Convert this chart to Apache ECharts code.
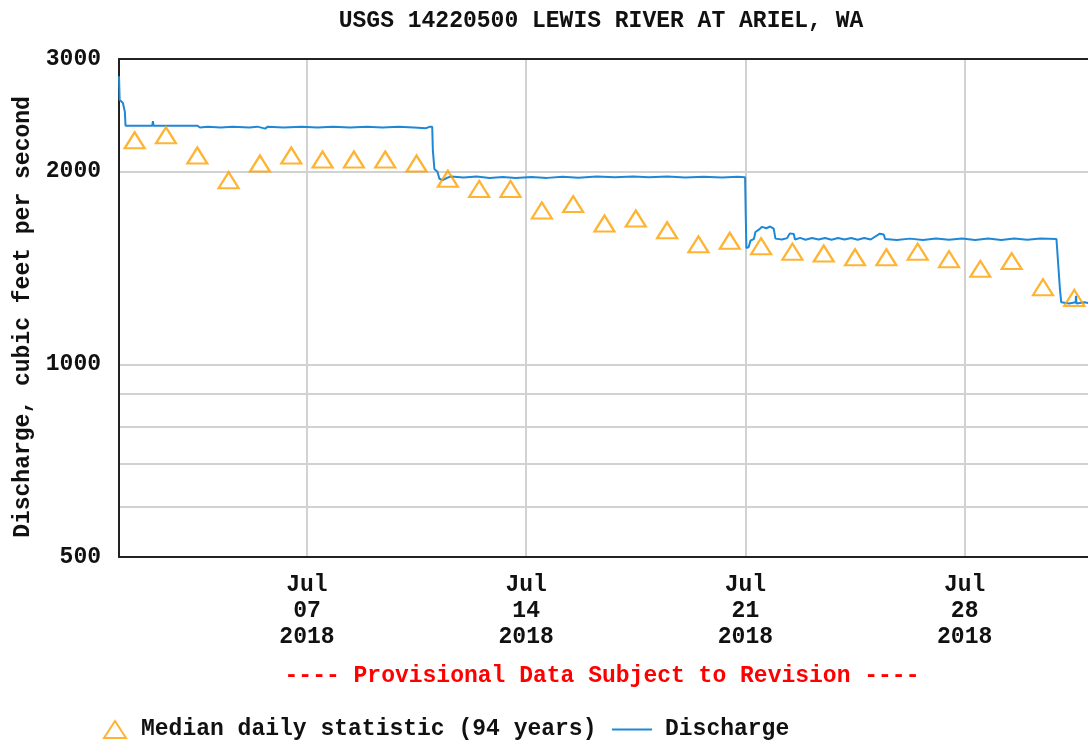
<!DOCTYPE html>
<html>
<head>
<meta charset="utf-8">
<script src="https://cdn.jsdelivr.net/npm/echarts@6/dist/echarts.min.js"></script>
<style>
  html, body { margin: 0; padding: 0; background: #fff; }
  #main { width: 1088px; height: 743px; }
</style>
</head>
<body>
<div id="main"></div>
<script>
// USGS 14220500 Lewis River at Ariel, WA -- July 2018
var FONT = 'Liberation Mono';
var monthNames = ['Jan','Feb','Mar','Apr','May','Jun','Jul','Aug','Sep','Oct','Nov','Dec'];

// y axis labels / inner grid lines (cfs)
var yLabelValues = [500, 1000, 2000, 3000];
var yGridValues = [600, 700, 800, 900, 1000, 2000];

// x axis label days (July 2018)
var xLabelDays = ['07-07', '07-14', '07-21', '07-28'];

// median daily statistic, one per day of July (plotted at noon)
var medianDays = [1,2,3,4,5,6,7,8,9,10,11,12,13,14,15,16,17,18,19,20,21,22,23,24,25,26,27,28,29,30,31];
var medianValues = [2240,2280,2120,1940,2060,2120,2090,2090,2090,2060,
                    1950,1880,1880,1740,1780,1660,1690,1620,1540,1560,
                    1530,1500,1490,1470,1470,1500,1460,1410,1450,1320,1270];

// instantaneous discharge (UTC, 2018)
var dischargeTimes = [
  '07-01 00:00','07-01 00:30','07-01 03:00','07-01 04:30','07-01 05:00',
  '07-02 01:30','07-02 02:00','07-02 02:30','07-03 12:00','07-03 14:00',
  '07-03 20:00','07-04 06:00','07-04 15:00','07-05 04:00','07-05 10:00',
  '07-05 16:00','07-05 18:00','07-06 06:00','07-06 20:00','07-07 08:00',
  '07-07 20:00','07-08 09:00','07-08 22:00','07-09 10:00','07-09 22:00',
  '07-10 10:00','07-10 19:00','07-10 22:00','07-10 23:30','07-11 00:00',
  '07-11 00:30','07-11 01:40','07-11 04:00','07-11 05:30','07-11 08:00',
  '07-11 11:00','07-11 14:00','07-12 00:00','07-12 10:00','07-12 20:00',
  '07-13 06:00','07-13 16:00','07-14 04:00','07-14 16:00','07-15 04:00',
  '07-15 16:00','07-16 06:00','07-16 20:00','07-17 10:00','07-17 22:00',
  '07-18 12:00','07-19 02:00','07-19 16:00','07-20 06:00','07-20 18:00',
  '07-20 23:45','07-21 00:15','07-21 00:45','07-21 02:30','07-21 03:50',
  '07-21 06:30','07-21 07:40','07-21 10:00','07-21 12:45','07-21 16:00',
  '07-21 19:00','07-21 21:40','07-21 23:00','07-22 04:00','07-22 08:00',
  '07-22 10:00','07-22 13:00','07-22 14:00','07-22 18:00','07-22 22:00',
  '07-23 03:00','07-23 08:00','07-23 13:00','07-23 18:00','07-23 23:00',
  '07-24 04:00','07-24 09:00','07-24 14:00','07-24 19:00','07-25 00:00',
  '07-25 07:00','07-25 10:00','07-25 11:00','07-25 20:00','07-26 06:00',
  '07-26 16:00','07-27 02:00','07-27 12:00','07-27 22:00','07-28 08:00',
  '07-28 18:00','07-29 04:00','07-29 14:00','07-30 00:00','07-30 10:00',
  '07-30 22:20','07-30 23:30','07-31 01:00','07-31 02:00','07-31 08:00',
  '07-31 13:00','07-31 13:20','07-31 13:40','07-31 20:00','08-01 00:00'
];
var dischargeValues = [
  2820,2590,2560,2480,2360,
  2360,2400,2360,2360,2345,
  2352,2345,2352,2345,2352,
  2335,2352,2345,2352,2345,
  2352,2345,2352,2345,2352,
  2345,2338,2350,2360,2350,
  2160,2020,2000,1950,1940,
  1955,1965,1958,1965,1955,
  1963,1955,1962,1956,1964,
  1957,1966,1960,1966,1960,
  1966,1958,1964,1958,1964,
  1960,1710,1520,1525,1560,
  1570,1610,1622,1640,1632,
  1642,1630,1572,1567,1575,
  1602,1598,1567,1576,1566,
  1576,1567,1576,1566,1576,
  1567,1576,1566,1576,1567,
  1600,1596,1570,1564,1572,
  1564,1573,1565,1573,1564,
  1573,1564,1573,1565,1573,
  1570,1560,1310,1250,1245,
  1250,1280,1245,1250,1245
];

function toTime(s) {
  return Date.parse('2018-' + s.replace(' ', 'T') + ':00Z');
}
function pad(n) { return (n < 10 ? '0' : '') + n; }

var dischargeData = dischargeTimes.map(function (t, i) {
  return [toTime(t), dischargeValues[i]];
});
var medianData = medianDays.map(function (d, i) {
  return [toTime('07-' + pad(d) + ' 12:00'), medianValues[i]];
});
var xTicks = xLabelDays.map(function (d) { return toTime(d + ' 00:00'); });
var xMin = toTime('07-01 00:00');
var xMax = toTime('07-31 22:30');   // plot is cut off at the right edge

var textStyle = { fontFamily: FONT, fontWeight: 'bold', fontSize: 23, color: '#111' };
var frame = { show: true, lineStyle: { color: '#222', width: 2 } };
var gridLine = { show: true, lineStyle: { color: '#d2d2d2', width: 2 } };

var myChart = echarts.init(document.getElementById('main'));
myChart.setOption({
  animation: false,
  backgroundColor: '#fff',
  title: [
    {
      text: 'USGS 14220500 LEWIS RIVER AT ARIEL, WA',
      left: 596, top: 5, textAlign: 'center',
      textStyle: textStyle
    },
    {
      text: '---- Provisional Data Subject to Revision ----',
      left: 597, top: 660, textAlign: 'center',
      textStyle: { fontFamily: FONT, fontWeight: 'bold', fontSize: 23, color: '#ff0000' }
    }
  ],
  graphic: [
    {
      type: 'text',
      x: 23, y: 317,
      rotation: Math.PI / 2,
      style: {
        text: 'Discharge, cubic feet per second',
        font: 'bold 23px "' + FONT + '"',
        fill: '#111',
        align: 'center',
        verticalAlign: 'middle'
      }
    }
  ],
  legend: [
    {
      left: 98, top: 713,
      itemWidth: 22, itemHeight: 17,
      data: ['Median daily statistic (94 years)'],
      textStyle: Object.assign({ padding: [0, 0, 0, 10] }, textStyle)
    },
    {
      left: 607, top: 713,
      itemWidth: 40, itemHeight: 2,
      data: [{ name: 'Discharge', icon: 'rect' }],
      textStyle: Object.assign({ padding: [0, 0, 0, 8] }, textStyle)
    }
  ],
  grid: { left: 119, top: 59, bottom: 186, right: 0 },
  xAxis: [
    {
      type: 'value',
      min: xMin,
      max: xMax,
      axisLine: frame,
      axisTick: { show: false, customValues: xTicks },
      axisLabel: {
        customValues: xTicks,
        margin: 15,
        fontFamily: FONT, fontWeight: 'bold', fontSize: 23, color: '#111',
        lineHeight: 26,
        formatter: function (v) {
          var d = new Date(v);
          return monthNames[d.getUTCMonth()] + '\n' + pad(d.getUTCDate()) + '\n' + d.getUTCFullYear();
        }
      },
      splitLine: gridLine
    },
    {
      // top frame line
      type: 'value',
      position: 'top',
      min: xMin,
      max: xMax,
      axisLine: frame,
      axisTick: { show: false },
      axisLabel: { show: false },
      splitLine: { show: false }
    }
  ],
  yAxis: {
    type: 'log',
    logBase: 10,
    min: 500,
    max: 3000,
    axisLine: frame,
    axisTick: { show: false, customValues: yGridValues },
    axisLabel: {
      customValues: yLabelValues,
      margin: 18,
      fontFamily: FONT, fontWeight: 'bold', fontSize: 23, color: '#111',
      formatter: function (v) { return String(Math.round(v)); }
    },
    splitLine: gridLine
  },
  series: [
    {
      name: 'Median daily statistic (94 years)',
      type: 'scatter',
      symbol: 'triangle',
      symbolSize: [20, 16],
      itemStyle: { color: 'rgba(255,255,255,0)', borderColor: '#ffa000', borderWidth: 2.2 },
      data: medianData,
      z: 3
    },
    {
      name: 'Discharge',
      type: 'line',
      symbol: 'none',
      color: '#1f88d6',
      lineStyle: { color: '#1f88d6', width: 2 },
      data: dischargeData,
      z: 2
    }
  ]
});
</script>
</body>
</html>
